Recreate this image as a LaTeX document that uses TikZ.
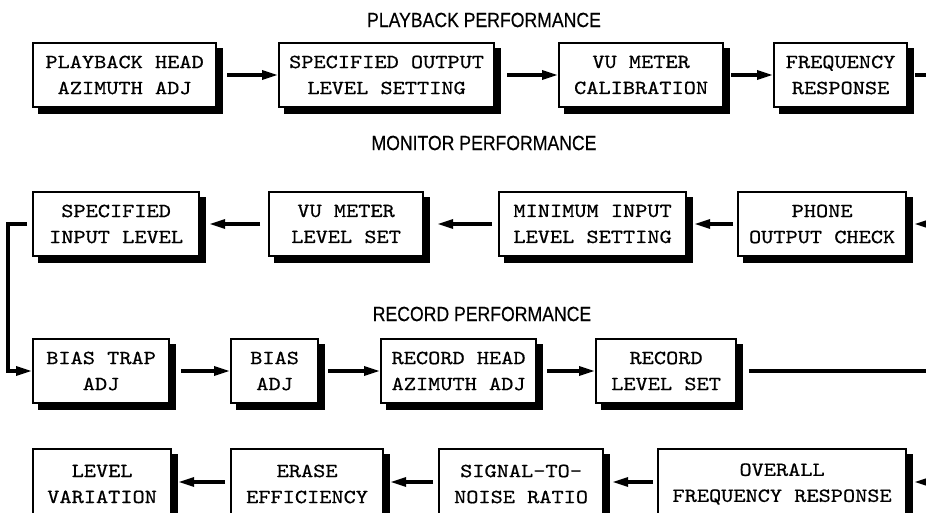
\documentclass[tikz,border=0pt]{standalone}
\usepackage{fontspec}
\usetikzlibrary{arrows.meta}
\newfontfamily\boxfont{lmmono10-regular.otf}[FakeStretch=1.16,FakeBold=0.6]
\newfontfamily\titlefont{Liberation Sans}[FakeStretch=0.86,FakeBold=0.4]
\tikzset{
  bx/.style={draw=black, line width=2.2pt, fill=white,
    minimum height=64pt, inner sep=0pt, align=center, anchor=west,
    font={\boxfont\fontsize{20}{26}\selectfont}},
  sh/.style={bx, fill=black},
  ttl/.style={inner sep=0pt, font={\titlefont\fontsize{20.5}{22}\selectfont}},
  arr/.style={line width=3.2pt, -{Triangle[length=16pt,width=9pt]}},
  ln/.style={line width=3.2pt}
}
\begin{document}
\begin{tikzpicture}[x=1pt,y=-1pt]
\useasboundingbox (0,0) rectangle (926,513);
% titles
\node[ttl] (t1) at (484,20) {PLAYBACK PERFORMANCE};
\node[ttl] (t2) at (484,143) {MONITOR PERFORMANCE};
\node[ttl] (t3) at (482,314) {RECORD PERFORMANCE};
% row 1
\node[sh, minimum width=183pt] (s1) at (38,81) {};
\node[bx, minimum width=183pt] (b1) at (32,75) {PLAYBACK HEAD\\AZIMUTH ADJ};
\node[sh, minimum width=215pt] (s2) at (284,81) {};
\node[bx, minimum width=215pt] (b2) at (278,75) {SPECIFIED OUTPUT\\LEVEL SETTING};
\node[sh, minimum width=164pt] (s3) at (564,81) {};
\node[bx, minimum width=164pt] (b3) at (558,75) {VU METER\\CALIBRATION};
\node[sh, minimum width=133pt] (s4) at (779,81) {};
\node[bx, minimum width=133pt] (b4) at (773,75) {FREQUENCY\\RESPONSE};
\coordinate (e1) at (930,75);
\draw[arr] ([xshift=10pt]b1.east) -- (b2.west);
\draw[arr] ([xshift=12pt]b2.east) -- (b3.west);
\draw[arr] ([xshift=7pt]b3.east) -- (b4.west);
\draw[ln] ([xshift=7pt]b4.east) -- (e1);
% row 2
\node[sh, minimum width=166pt] (s5) at (38,230) {};
\node[bx, minimum width=166pt] (b5) at (32,224) {SPECIFIED\\INPUT LEVEL};
\node[sh, minimum width=154pt] (s6) at (274,230) {};
\node[bx, minimum width=154pt] (b6) at (268,224) {VU METER\\LEVEL SET};
\node[sh, minimum width=187pt] (s7) at (504,230) {};
\node[bx, minimum width=187pt] (b7) at (498,224) {MINIMUM INPUT\\LEVEL SETTING};
\node[sh, minimum width=168pt] (s8) at (743,230) {};
\node[bx, minimum width=168pt] (b8) at (737,224) {PHONE\\OUTPUT CHECK};
\coordinate (e2) at (930,224);
\draw[arr] (e2) -- ([xshift=7pt]b8.east);
\draw[arr] ([xshift=-4pt]b8.west) -- ([xshift=7pt]b7.east);
\draw[arr] ([xshift=-6pt]b7.west) -- ([xshift=13pt]b6.east);
\draw[arr] ([xshift=-8pt]b6.west) -- ([xshift=9pt]b5.east);
% row 3
\node[sh, minimum width=136pt] (s9) at (38,377) {};
\node[bx, minimum width=136pt] (b9) at (32,371) {BIAS TRAP\\ADJ};
\node[sh, minimum width=87pt] (s10) at (236,377) {};
\node[bx, minimum width=87pt] (b10) at (230,371) {BIAS\\ADJ};
\node[sh, minimum width=155pt] (s11) at (386,377) {};
\node[bx, minimum width=155pt] (b11) at (380,371) {RECORD HEAD\\AZIMUTH ADJ};
\node[sh, minimum width=140pt] (s12) at (601,377) {};
\node[bx, minimum width=140pt] (b12) at (595,371) {RECORD\\LEVEL SET};
\coordinate (e3) at (930,371);
\coordinate (l1) at (8,224);
\draw[arr] ([xshift=-5pt]b5.west) -- (l1) |- (b9.west);
\draw[arr] ([xshift=11pt]b9.east) -- (b10.west);
\draw[arr] ([xshift=9pt]b10.east) -- (b11.west);
\draw[arr] ([xshift=10pt]b11.east) -- (b12.west);
\draw[ln] ([xshift=12pt]b12.east) -- (e3);
% row 4
\node[sh, minimum width=138pt, minimum height=70pt] (s13) at (38,490) {};
\node[bx, minimum width=138pt, minimum height=70pt] (b13) at (32,484) {LEVEL\\VARIATION};
\node[sh, minimum width=152pt, minimum height=70pt] (s14) at (236,490) {};
\node[bx, minimum width=152pt, minimum height=70pt] (b14) at (230,484) {ERASE\\EFFICIENCY};
\node[sh, minimum width=164pt, minimum height=70pt] (s15) at (444,490) {};
\node[bx, minimum width=164pt, minimum height=70pt] (b15) at (438,484) {SIGNAL-TO-\\NOISE RATIO};
\node[sh, minimum width=248pt, minimum height=70pt] (s16) at (663,490) {};
\node[bx, minimum width=248pt, minimum height=70pt] (b16) at (657,484) {OVERALL\\FREQUENCY RESPONSE};
\coordinate (e4) at (930,482);
\draw[arr] (e4) -- ([xshift=7pt,yshift=2pt]b16.east);
\draw[arr] ([xshift=-4pt,yshift=2pt]b16.west) -- ([xshift=8pt,yshift=2pt]b15.east);
\draw[arr] ([xshift=-5pt,yshift=2pt]b15.west) -- ([xshift=6pt,yshift=2pt]b14.east);
\draw[arr] ([xshift=-5pt,yshift=2pt]b14.west) -- ([xshift=6pt,yshift=2pt]b13.east);
\end{tikzpicture}
\end{document}
